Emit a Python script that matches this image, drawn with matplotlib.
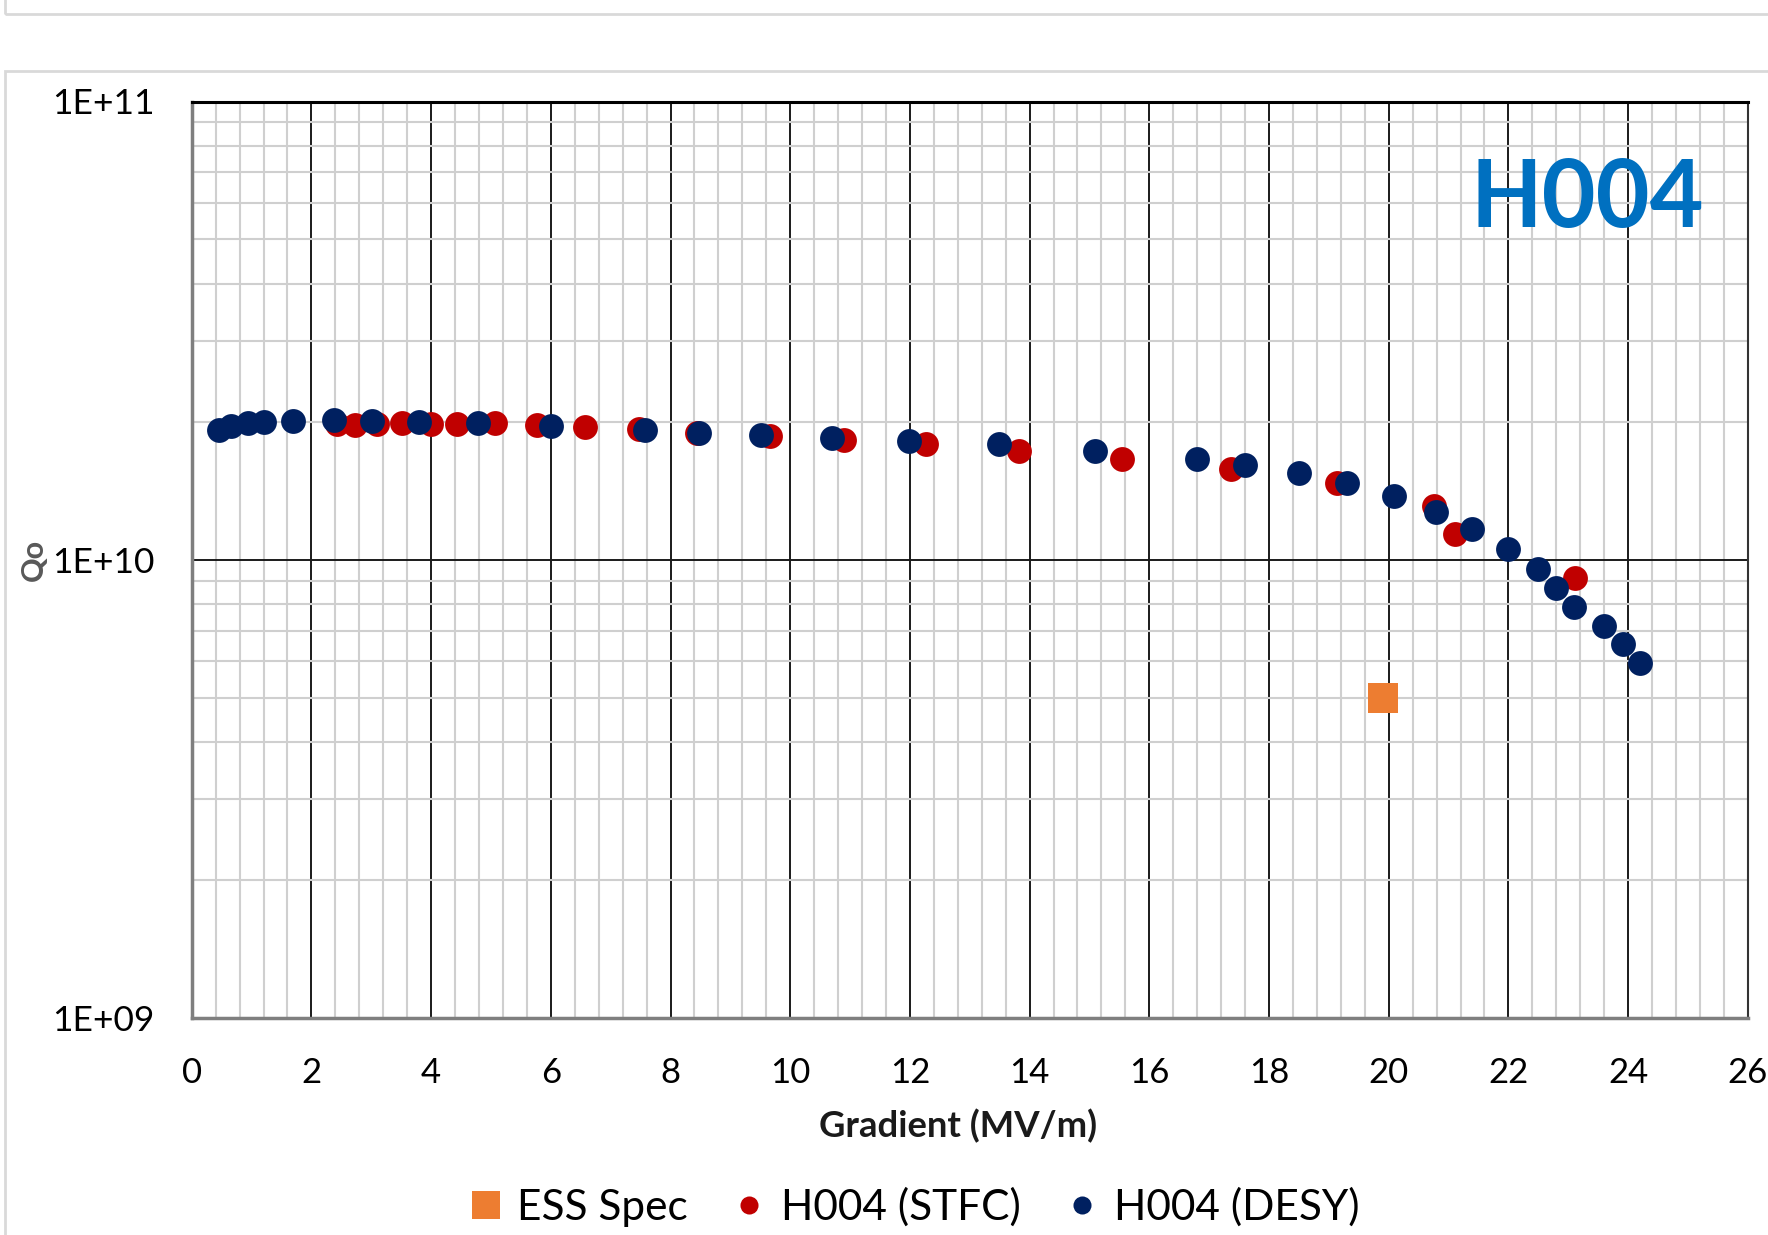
import matplotlib
matplotlib.use("Agg")
import matplotlib.pyplot as plt
from matplotlib.patches import Rectangle
from matplotlib.lines import Line2D
from matplotlib.ticker import FixedLocator, NullFormatter
import numpy as np

plt.rcParams['font.family'] = ['Lato', 'DejaVu Sans']

# ---- data ----
ess_x = [19.9]
ess_q = [5.0e9]

stfc_x = [2.42, 2.73, 3.09, 3.51, 4.00, 4.44, 5.06, 5.77, 6.57, 7.48, 8.45, 9.66,
          10.90, 12.27, 13.82, 15.55, 17.36, 19.14, 20.75, 21.11, 23.11]
stfc_q = [1.974e10, 1.964e10, 1.974e10, 1.984e10, 1.98e10, 1.98e10, 1.987e10, 1.964e10,
          1.948e10, 1.925e10, 1.894e10, 1.862e10, 1.822e10, 1.79e10, 1.73e10, 1.66e10,
          1.58e10, 1.47e10, 1.31e10, 1.14e10, 9.14e9]

desy_x = [0.46, 0.66, 0.94, 1.20, 1.69, 2.385, 3.01, 3.79, 4.78, 6.01, 7.58, 8.48, 9.52,
          10.70, 11.99, 13.49, 15.09, 16.79, 17.60, 18.50, 19.30, 20.09, 20.79, 21.39,
          21.99, 22.49, 22.80, 23.10, 23.60, 23.91, 24.20]
desy_q = [1.916e10, 1.957e10, 1.984e10, 1.994e10, 2.007e10, 2.017e10, 2.007e10, 1.994e10,
          1.984e10, 1.957e10, 1.922e10, 1.894e10, 1.87e10, 1.847e10, 1.82e10, 1.79e10,
          1.73e10, 1.66e10, 1.61e10, 1.55e10, 1.47e10, 1.38e10, 1.27e10, 1.165e10,
          1.057e10, 9.54e9, 8.68e9, 7.88e9, 7.16e9, 6.54e9, 5.95e9]

x_ticks = [0, 2, 4, 6, 8, 10, 12, 14, 16, 18, 20, 22, 24, 26]
y_ticks = [1e9, 1e10, 1e11]
y_tick_labels = ["1E+09", "1E+10", "1E+11"]
series_labels = ["ESS Spec", "H004 (STFC)", "H004 (DESY)"]

# ---- figure ----
W, H = 1768, 1235
fig = plt.figure(figsize=(W / 100, H / 100), dpi=100)

def fx(px):
    return px / W

def fy(py):
    return 1 - py / H

# outer chart-area frames
frame_col = "#d9d9d9"
fig.add_artist(Rectangle((fx(4.5), fy(13.5)), 1.2, 0.2, transform=fig.transFigure,
                         fill=False, ec=frame_col, lw=2))
fig.add_artist(Rectangle((fx(4.5), fy(1400)), 1.2, fy(71) - fy(1400), transform=fig.transFigure,
                         fill=False, ec=frame_col, lw=2))

left, right, top, bottom = 191.7, 1747.8, 101.5, 1018
ax = fig.add_axes([fx(left), fy(bottom), fx(right) - fx(left), fy(top) - fy(bottom)])
ax.set_yscale('log')
ax.set_xlim(0, 26)
ax.set_ylim(1e9, 1e11)

# grid
ax.xaxis.set_major_locator(FixedLocator(x_ticks))
ax.xaxis.set_minor_locator(FixedLocator(np.arange(0, 26.01, 0.4)))
minor_y = [m * 10.0 ** e for e in (9, 10) for m in range(2, 10)]
ax.yaxis.set_major_locator(FixedLocator(y_ticks))
ax.yaxis.set_minor_locator(FixedLocator(minor_y))
ax.yaxis.set_minor_formatter(NullFormatter())
ax.grid(True, which='minor', color='#cfcfcf', lw=1.5, zorder=0)
ax.grid(True, which='major', color='#1a1a1a', lw=1.4, zorder=0.5)
ax.set_axisbelow(True)

ax.set_xticks(x_ticks)
ax.set_xticklabels([str(t) for t in x_ticks])
ax.set_yticks(y_ticks)
ax.set_yticklabels(y_tick_labels)
ax.tick_params(which='both', length=0)
ax.tick_params(axis='x', labelsize=25, pad=28)
ax.tick_params(axis='y', labelsize=25.5, pad=27)

for s in ('left', 'bottom'):
    ax.spines[s].set_color('#7f7f7f')
    ax.spines[s].set_linewidth(2.5)
ax.spines['top'].set_color('#000000')
ax.spines['top'].set_linewidth(2.2)
ax.spines['right'].set_color('#333333')
ax.spines['right'].set_linewidth(1.5)

# series
ax.scatter(ess_x, ess_q, marker='s', s=480, color='#ED7D31', zorder=3, linewidths=0)
ax.scatter(stfc_x, stfc_q, marker='o', s=320, color='#C00000', zorder=4, linewidths=0)
ax.scatter(desy_x, desy_q, marker='o', s=320, color='#002060', zorder=5, linewidths=0)

ax.set_xlabel("Gradient (MV/m)", fontsize=26.3, fontweight='bold', color='#1a1a1a')
ax.xaxis.set_label_coords(0.4928, -0.0995)

fig.text(fx(34), fy(560), "Qo", rotation=90, ha='center', va='center',
         fontsize=22, fontweight='bold', color='#595959')

ax.text(0.972, 0.892, "H004", transform=ax.transAxes, ha='right', va='center',
        fontsize=67, fontweight='bold', color='#0070C0')

handles = [
    Line2D([], [], ls='none', marker='s', ms=20, color='#ED7D31', mew=0),
    Line2D([], [], ls='none', marker='o', ms=13, color='#C00000', mew=0),
    Line2D([], [], ls='none', marker='o', ms=13, color='#002060', mew=0),
]
fig.legend(handles, series_labels, loc='center', bbox_to_anchor=(fx(912), fy(1207)),
           ncol=3, frameon=False, fontsize=30.5, handletextpad=0.25, columnspacing=0.95,
           handlelength=1.0)

fig.savefig("out.png", dpi=100)
